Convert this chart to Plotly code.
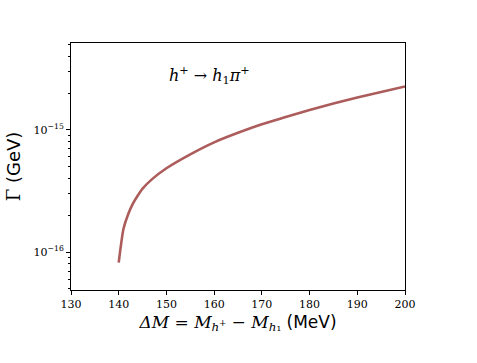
import plotly.graph_objects as go

# Delta M (MeV) and width Gamma (GeV)
delta_m = [140, 141, 142, 143, 144, 145, 147, 150, 155, 160, 165, 170, 175, 180, 185, 190, 195, 200]
gamma = [0.82e-16, 1.55e-16, 2.05e-16, 2.5e-16, 2.9e-16, 3.3e-16, 3.95e-16, 4.85e-16, 6.3e-16,
         7.9e-16, 9.45e-16, 11.1e-16, 12.7e-16, 14.5e-16, 16.4e-16, 18.4e-16, 20.4e-16, 22.6e-16]

x_ticks = [130, 140, 150, 160, 170, 180, 190, 200]
y_ticks = [1e-16, 1e-15]
y_ticktext = ["10<sup>−16</sup>", "10<sup>−15</sup>"]
y_minor = [5e-17, 6e-17, 7e-17, 8e-17, 9e-17,
           2e-16, 3e-16, 4e-16, 5e-16, 6e-16, 7e-16, 8e-16, 9e-16,
           2e-15, 3e-15, 4e-15, 5e-15]

fig = go.Figure()
fig.add_trace(go.Scatter(
    x=delta_m, y=gamma, mode="lines",
    line=dict(color="#ad5c5c", width=2.6, shape="spline", smoothing=0.6),
    showlegend=False,
))

fig.add_annotation(
    x=159, y=0.925, xref="x", yref="paper", showarrow=False,
    text="<i>h</i><sup>+</sup> → <i>h</i><sub>1</sub><i>π</i><sup>+</sup>",
    font=dict(family="DejaVu Serif", size=16, color="black"),
)

fig.update_layout(
    width=477, height=363,
    margin=dict(l=71, r=72, t=43, b=73),
    paper_bgcolor="white", plot_bgcolor="white",
    font=dict(family="DejaVu Serif", color="black"),
    xaxis=dict(
        range=[130, 200], tickvals=x_ticks,
        ticks="outside", ticklen=4, tickwidth=1, tickcolor="black",
        showline=True, linecolor="black", linewidth=1, mirror=True,
        showgrid=False, zeroline=False,
        tickfont=dict(family="DejaVu Serif", size=11),
        title=dict(
            text="<i>ΔM</i> = <i>M</i><sub><i>h</i><sup>+</sup></sub> − <i>M</i><sub><i>h</i>₁</sub> <span style='font-family:DejaVu Sans'>(MeV)</span>",
            font=dict(family="DejaVu Serif", size=17), standoff=5,
        ),
    ),
    yaxis=dict(
        type="log", range=[-16.31, -14.29],
        tickvals=y_ticks, ticktext=y_ticktext,
        ticks="outside", ticklen=4, tickwidth=1, tickcolor="black",
        minor=dict(tickvals=y_minor, ticks="outside", ticklen=2, tickcolor="black", showgrid=False),
        showline=True, linecolor="black", linewidth=1, mirror=True,
        showgrid=False, zeroline=False,
        tickfont=dict(family="DejaVu Serif", size=11),
        title=dict(
            text="Γ <span style='font-family:DejaVu Sans'>(GeV)</span>",
            font=dict(family="DejaVu Serif", size=18), standoff=8,
        ),
    ),
)

fig.write_html("out.html", config={"displayModeBar": False},
               post_script="document.body.style.margin='0';")
